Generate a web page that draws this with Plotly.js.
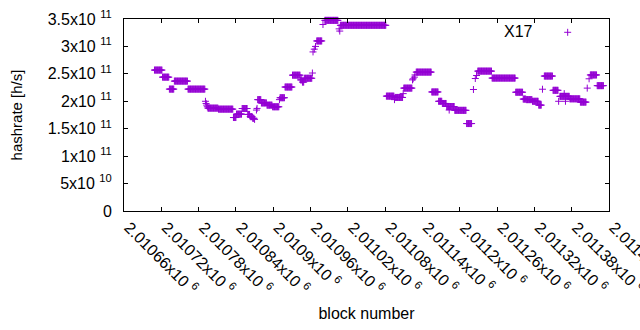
<!DOCTYPE html>
<html>
<head>
<meta charset="utf-8">
<script src="https://cdn.plot.ly/plotly-3.0.1.min.js"></script>
<style>html,body{margin:0;padding:0;background:#fff;}#chart{width:640px;height:330px;}</style>
</head>
<body>
<div id="chart"></div>
<script>
// Runs of consecutive blocks sharing one hashrate value
const runStart = [2010709,2010722,2010733,2010741,2010763,2010791,2010792,2010793,2010794,2010795,2010812,2010836,2010841,2010850,2010859,2010863,2010867,2010870,2010873,2010874,2010875,2010881,2010890,2010899,2010910,2010911,2010919,2010931,2010944,2010947,2010950,2010963,2010964,2010966,2010968,2010970,2010980,2010983,2011006,2011007,2011008,
  2011082,2011095,2011096,2011109,2011110,2011124,2011125,2011127,2011128,2011130,2011155,2011166,2011172,2011179,2011183,2011192,2011211,2011222,2011225,2011227,2011229,2011252,2011290,2011302,2011307,2011317,2011327,2011333,2011336,2011350,2011359,2011361,2011368,2011370,2011377,2011394,2011405,2011408,2011410,2011421];
const runEnd = [2010721,2010732,2010740,2010762,2010790,2010791,2010792,2010793,2010794,2010811,2010835,2010840,2010849,2010858,2010862,2010866,2010869,2010870,2010873,2010874,2010880,2010889,2010898,2010909,2010910,2010918,2010930,2010943,2010946,2010949,2010962,2010963,2010964,2010966,2010968,2010978,2010980,2011004,2011006,2011007,2011081,
  2011094,2011095,2011108,2011109,2011123,2011124,2011125,2011127,2011128,2011154,2011165,2011171,2011178,2011191,2011183,2011210,2011219,2011222,2011225,2011227,2011251,2011289,2011301,2011306,2011316,2011326,2011331,2011333,2011349,2011358,2011359,2011376,2011368,2011370,2011393,2011403,2011405,2011408,2011420,2011431];
const runValue = [2.569e11,2.44e11,2.222e11,2.368e11,2.222e11,2.0e11,1.96e11,1.93e11,1.90e11,1.875e11,1.857e11,1.704e11,1.766e11,1.868e11,1.76e11,1.72e11,1.69e11,1.67e11,1.84e11,1.87e11,2.03e11,1.97e11,1.93e11,1.90e11,2.03e11,2.065e11,2.26e11,2.476e11,2.39e11,2.35e11,2.42e11,2.515e11,2.90e11,2.95e11,3.0e11,3.10e11,3.40e11,3.475e11,3.32e11,3.28e11,3.385e11,
  2.094e11,2.03e11,2.07e11,2.14e11,2.24e11,2.39e11,2.41e11,2.44e11,2.48e11,2.532e11,2.17e11,2.0e11,1.96e11,1.905e11,1.84e11,1.835e11,1.594e11,2.215e11,2.415e11,2.47e11,2.55e11,2.423e11,2.165e11,2.04e11,2.03e11,2.0e11,1.93e11,2.22e11,2.46e11,2.2e11,2.0e11,2.09e11,2.14e11,2.0e11,2.045e11,1.985e11,2.24e11,2.41e11,2.48e11,2.285e11];

const xTickVals = [2010660,2010720,2010780,2010840,2010900,2010960,2011020,2011080,2011140,2011200,2011260,2011320,2011380,2011440];
const xTickText = ["2.01066x10 <sup>6</sup>","2.01072x10 <sup>6</sup>","2.01078x10 <sup>6</sup>","2.01084x10 <sup>6</sup>","2.0109x10 <sup>6</sup>","2.01096x10 <sup>6</sup>","2.01102x10 <sup>6</sup>","2.01108x10 <sup>6</sup>","2.01114x10 <sup>6</sup>","2.0112x10 <sup>6</sup>","2.01126x10 <sup>6</sup>","2.01132x10 <sup>6</sup>","2.01138x10 <sup>6</sup>","2.01144x10 <sup>6</sup>"];
const yTickVals = [0,5e10,1e11,1.5e11,2e11,2.5e11,3e11,3.5e11];
const yTickText = ["0","5x10 <sup>10</sup>","1x10 <sup>11</sup>","1.5x10 <sup>11</sup>","2x10 <sup>11</sup>","2.5x10 <sup>11</sup>","3x10 <sup>11</sup>","3.5x10 <sup>11</sup>"];

// expand each run into one point per block
const xs = [], ys = [];
for (let i = 0; i < runStart.length; i++) {
  for (let b = runStart[i]; b <= runEnd[i]; b++) { xs.push(b); ys.push(runValue[i]); }
}

const color = '#9400D3';
const fam = 'Liberation Sans, Arial, sans-serif';
const font = {family: fam, size: 16, color: '#000'};

const trace = {
  x: xs, y: ys, type: 'scatter', mode: 'markers', name: 'X17', showlegend: false,
  cliponaxis: false,
  marker: {symbol: 'cross-thin-open', size: 5, color: color, line: {width: 1, color: color}}
};

const lx = 0.9148, ly = 0.9307;
const layout = {
  width: 640, height: 330,
  margin: {l: 124, r: 31, t: 19, b: 119},
  paper_bgcolor: '#fff', plot_bgcolor: '#fff',
  font: font,
  showlegend: false,
  xaxis: {
    range: [2010660, 2011440], tickvals: xTickVals, ticktext: xTickText, tickangle: 45,
    ticks: 'inside', ticklen: 4, tickcolor: '#000', showline: true, linecolor: '#000', linewidth: 1,
    mirror: 'ticks', showgrid: false, zeroline: false, tickfont: font,
    ticklabelshift: 5, ticklabelstandoff: 0, ticklabeloverflow: 'allow',
    title: {text: 'block number', font: font, standoff: 11}
  },
  yaxis: {
    range: [0, 3.5e11], tickvals: yTickVals, ticktext: yTickText,
    ticks: 'inside', ticklen: 4, tickcolor: '#000', showline: true, linecolor: '#000', linewidth: 1,
    mirror: 'ticks', showgrid: false, zeroline: false, tickfont: font,
    ticklabelstandoff: 8,
    title: {text: 'hashrate [h/s]', font: {family: fam, size: 15, color: '#000'}, standoff: 21}
  },
  annotations: [{
    xref: 'paper', yref: 'paper', x: 0.8144, y: 0.934, text: 'X17', showarrow: false,
    font: font, xanchor: 'center', yanchor: 'middle'
  }],
  shapes: [
    {type: 'line', xref: 'paper', yref: 'paper', x0: lx - 0.0072, x1: lx + 0.0072, y0: ly, y1: ly, line: {color: color, width: 1}},
    {type: 'line', xref: 'paper', yref: 'paper', x0: lx, x1: lx, y0: ly - 0.0182, y1: ly + 0.0182, line: {color: color, width: 1}}
  ]
};

Plotly.newPlot('chart', [trace], layout, {staticPlot: true, displayModeBar: false});
</script>
</body>
</html>
